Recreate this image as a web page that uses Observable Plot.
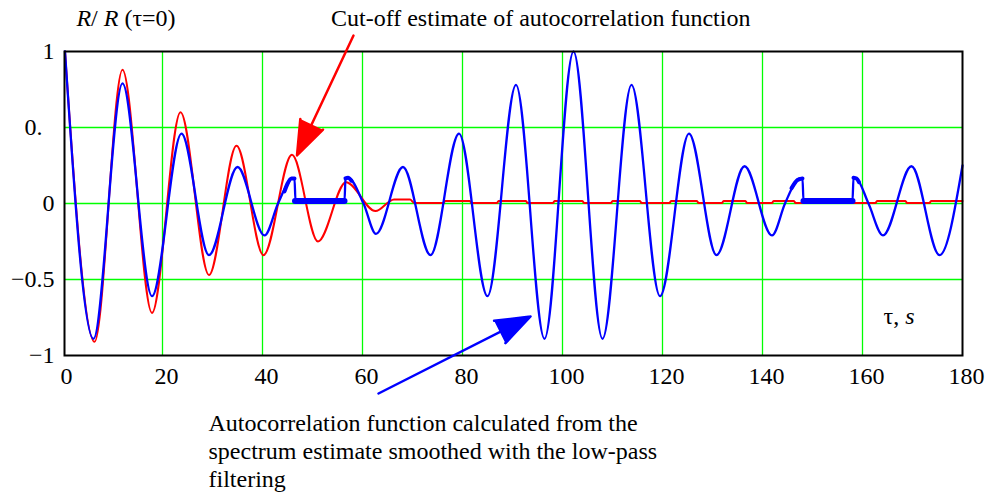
<!DOCTYPE html>
<html>
<head>
<meta charset="utf-8">
<script src="https://cdn.jsdelivr.net/npm/d3@7"></script>
<script src="https://cdn.jsdelivr.net/npm/@observablehq/plot@0.6"></script>
<style>
  html, body { margin: 0; padding: 0; background: #fff; }
</style>
</head>
<body>
<div id="chart"></div>
<script>
// ---- Data ----
// Cut-off estimate of autocorrelation function (red)
const redTau = [0.5, 6.4, 12.0, 17.9, 23.6, 29.3, 34.8, 40.2, 45.9, 51.1, 56.7, 62.6, 66.3, 69.5, 70.4,
  76.2, 76.5, 81.5, 81.8, 86.9, 87.2, 92.7, 93.0, 98.1, 98.4, 104.0, 104.3, 109.7, 110.0, 115.5, 115.8,
  121.4, 121.7, 126.9, 127.2, 131.9, 132.2, 136.6, 136.9, 141.9, 142.2, 146.3, 146.6, 152.3, 152.6, 157.0, 157.3,
  162.6, 162.9, 168.6, 168.9, 173.4, 173.7, 180];
const redR = [1.0, -0.91, 0.88, -0.72, 0.60, -0.47, 0.38, -0.34, 0.32, -0.25, 0.14, -0.05, 0.026, 0.026, 0.003,
  0.003, 0.016, 0.016, 0.003, 0.003, 0.016, 0.016, 0.003, 0.003, 0.016, 0.016, 0.003, 0.003, 0.016, 0.016, 0.003,
  0.003, 0.016, 0.016, 0.003, 0.003, 0.016, 0.016, 0.003, 0.003, 0.016, 0.016, 0.003, 0.003, 0.016, 0.016, 0.003,
  0.003, 0.016, 0.016, 0.003, 0.003, 0.016, 0.016];

// Autocorrelation function from the smoothed spectrum estimate (blue)
const blueTau = [0.5, 6.2, 12.0, 17.9, 23.8, 29.3, 35.0, 40.4, 43.1, 45.0, 45.8, 46.4, 46.6, 56.4, 56.6, 57.1, 60.2,
  62.7, 68.1, 73.6, 79.3, 85.0, 90.7, 96.4, 102.2, 108.0, 113.8, 119.5, 125.3, 130.8, 136.4, 141.9,
  144.5, 146.6, 147.4, 148.0, 148.2, 158.0, 158.2, 158.8, 161.2, 164.1, 169.8, 175.4, 180];
const blueR = [1.0, -0.89, 0.79, -0.61, 0.46, -0.34, 0.24, -0.21, 0.0, 0.13, 0.165, 0.165, 0.016, 0.016, 0.165, 0.17, 0.0,
  -0.20, 0.24, -0.34, 0.46, -0.61, 0.78, -0.89, 1.0, -0.89, 0.78, -0.61, 0.46, -0.34, 0.245, -0.21,
  0.0, 0.14, 0.165, 0.165, 0.016, 0.016, 0.17, 0.165, 0.0, -0.21, 0.245, -0.34, 0.25];

// Dense (thick) flat stretches of the blue curve
const bandSeg = ["a", "a", "b", "b"];
const bandTau = [46.5, 56.4, 148.2, 158.0];
const bandR = [0.016, 0.016, 0.016, 0.016];
// Dense (thick) rising stretches next to them
const rampSeg = ["a", "a", "a", "a", "b", "b", "b", "c", "c", "c", "d", "d", "d"];
const rampTau = [44.4, 45.0, 45.8, 46.4, 56.6, 57.1, 57.8, 145.8, 147.0, 148.0, 158.2, 158.8, 159.3];
const rampR = [0.08, 0.13, 0.165, 0.165, 0.165, 0.17, 0.15, 0.10, 0.155, 0.165, 0.17, 0.165, 0.14];

// Axis ticks
const xTicks = [0, 20, 40, 60, 80, 100, 120, 140, 160, 180];
const xGrid = [20, 40, 60, 80, 100, 120, 140, 160];
const yTicks = [1, 0.5, 0, -0.5, -1];
const yTickLabels = ["1", "0.\u00A0\u00A0", "0", "\u22120.5", "\u22121"];
const yGrid = [0.5, 0, -0.5];

// Texts
const titleText = "R/ R (τ=0)";
const redNote = "Cut-off estimate of autocorrelation function";
const blueNote = "Autocorrelation function calculated from the\nspectrum estimate smoothed with the low-pass\nfiltering";
const xLabel = "τ, s";

// ---- Build tables ----
const red = redTau.map((t, i) => ({t, r: redR[i]}));
const blue = blueTau.map((t, i) => ({t, r: blueR[i]}));
const band = bandTau.map((t, i) => ({t, r: bandR[i], s: bandSeg[i]}));
const ramp = rampTau.map((t, i) => ({t, r: rampR[i], s: rampSeg[i]}));
const xTickData = xTicks.map(t => ({t}));
const yTickData = yTicks.map((v, i) => ({v, label: yTickLabels[i]}));
const xGridData = xGrid.map(t => ({t}));
const yGridData = yGrid.map(v => ({v}));

// Annotation anchors (data coordinates)
const titleAt = [{t: 12.7, r: 1.1645, text: titleText}];
const startNotes = [
  {t: 53.7, r: 1.1645, text: redNote},
  {t: 164.2, r: -0.796, text: xLabel}
];
const blueNoteAt = [{t: 29.2, r: -1.868, text: blueNote}];
const arrowsRed = [{x1: 58.2, y1: 1.105, x2: 46.9, y2: 0.316}];
const arrowsBlue = [{x1: 63.2, y1: -1.25, x2: 93.6, y2: -0.743}];

const FONT = "'Liberation Serif', 'Times New Roman', Times, serif";
const GRID = "rgb(0, 255, 0)";

const chart = Plot.plot({
  width: 987,
  height: 496,
  marginLeft: 64,
  marginRight: 25,
  marginTop: 51,
  marginBottom: 141,
  style: {fontFamily: FONT, fontSize: "24px", background: "white", color: "black", overflow: "visible"},
  x: {domain: [0.4, 180], axis: null},
  y: {domain: [-1, 1], axis: null},
  marks: [
    Plot.ruleX(xGridData, {x: "t", stroke: GRID, strokeWidth: 1.3}),
    Plot.ruleY(yGridData, {y: "v", stroke: GRID, strokeWidth: 1.6}),
    Plot.line(red, {x: "t", y: "r", stroke: "#ff0000", strokeWidth: 2, curve: "monotone-x"}),
    Plot.line(blue, {x: "t", y: "r", stroke: "#0000ff", strokeWidth: 2.3, curve: "monotone-x"}),
    Plot.line(band, {x: "t", y: "r", z: "s", stroke: "#0000ff", strokeWidth: 6}),
    Plot.line(ramp, {x: "t", y: "r", z: "s", stroke: "#0000ff", strokeWidth: 4, curve: "monotone-x"}),
    Plot.frame({stroke: "black", strokeWidth: 2}),
    Plot.text(xTickData, {x: "t", text: d => String(d.t), frameAnchor: "bottom", lineAnchor: "middle", dy: 21, dx: 4, fill: "black"}),
    Plot.text(yTickData, {y: "v", text: "label", frameAnchor: "left", lineAnchor: "middle", textAnchor: "end", dx: -10, fill: "black"}),
    Plot.text(titleAt, {x: "t", y: "r", text: "text", textAnchor: "middle", lineAnchor: "bottom", fill: "black"}),
    Plot.text(startNotes, {x: "t", y: "r", text: "text", textAnchor: "start", lineAnchor: "bottom", fill: "black"}),
    Plot.text(blueNoteAt, {x: "t", y: "r", text: "text", textAnchor: "start", lineAnchor: "bottom", lineHeight: 1.1667, fill: "black"}),
    Plot.arrow(arrowsRed, {x1: "x1", y1: "y1", x2: "x2", y2: "y2", stroke: "#ff0000", fill: "#ff0000", strokeWidth: 2.5, headLength: 22, headAngle: 40}),
    Plot.arrow(arrowsBlue, {x1: "x1", y1: "y1", x2: "x2", y2: "y2", stroke: "#0000ff", fill: "#0000ff", strokeWidth: 2.5, headLength: 22, headAngle: 40})
  ]
});

// Italic parts of the labels
function styled(el, parts) {
  const s = d3.select(el);
  s.text("");
  for (const [str, it] of parts) {
    const ts = s.append("tspan").text(str);
    if (it) ts.attr("font-style", "italic");
  }
}
d3.select(chart).selectAll("text").each(function () {
  const t = this.textContent;
  if (t === titleText) styled(this, [["R", true], ["/ ", false], ["R", true], [" (τ=0)", false]]);
  else if (t === xLabel) styled(this, [["τ, ", false], ["s", true]]);
});

document.getElementById("chart").appendChild(chart);
</script>
</body>
</html>
